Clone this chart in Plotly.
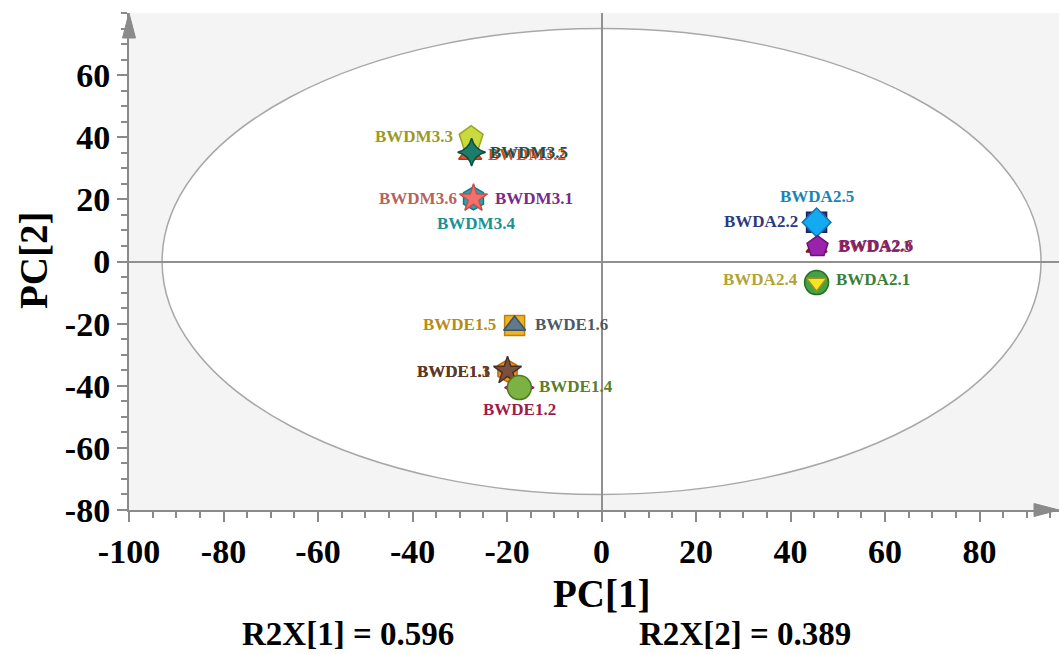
import plotly.graph_objects as go

# PCA score values (PC1, PC2) per sample
samples = ["BWDM3.3", "BWDM3.2", "BWDM3.5", "BWDM3.1", "BWDM3.4", "BWDM3.6",
           "BWDA2.2", "BWDA2.5", "BWDA2.3", "BWDA2.6", "BWDA2.1", "BWDA2.4",
           "BWDE1.5", "BWDE1.6", "BWDE1.1", "BWDE1.3", "BWDE1.2", "BWDE1.4"]
pc1 = [-27.6, -27.8, -27.5, -27.1, -27.1, -27.1,
       45.5, 45.5, 45.5, 45.7, 45.5, 45.5,
       -18.4, -18.4, -19.9, -19.9, -17.4, -17.4]
pc2 = [39.7, 34.5, 35.2, 20.3, 20.3, 20.3,
       12.6, 12.6, 4.5, 4.8, -6.8, -6.8,
       -20.6, -20.6, -35.2, -35.2, -40.6, -40.6]

r2x = [0.596, 0.389]
x_ticks = [-100, -80, -60, -40, -20, 0, 20, 40, 60, 80]
y_ticks = [-80, -60, -40, -20, 0, 20, 40, 60]

# Hotelling T2 ellipse semi-axes
ell_a, ell_b = 93, 75

# marker style: symbol, size, fill, outline
marker_style = {
    "BWDM3.3": ("pentagon", 25, "#c9da3c", "#9aa41e"),
    "BWDM3.2": ("triangle-up", 20, "#e4582a", "#b53a14"),
    "BWDM3.5": ("star-diamond", 20, "#1c7d6b", "#0f4a40"),
    "BWDM3.1": ("diamond", 10, "#8a2c98", "#5d1a68"),
    "BWDM3.4": ("hexagon", 23, "#22a6b8", "#137686"),
    "BWDM3.6": ("star", 21, "#f2706c", "#c2504c"),
    "BWDA2.2": ("square", 20, "#2b3a92", "#1a2262"),
    "BWDA2.5": ("diamond", 22, "#14aaf2", "#0a78b8"),
    "BWDA2.3": ("triangle-up", 18, "#b82424", "#801414"),
    "BWDA2.6": ("pentagon", 22, "#9b22aa", "#6a1274"),
    "BWDA2.1": ("circle", 24, "#44a244", "#226e22"),
    "BWDA2.4": ("triangle-down", 17, "#f4e424", "#a69214"),
    "BWDE1.5": ("square", 20, "#f2b222", "#b88410"),
    "BWDE1.6": ("triangle-up", 19, "#617a8a", "#3f5262"),
    "BWDE1.1": ("hexagon", 22, "#f2921e", "#b86410"),
    "BWDE1.3": ("star", 21, "#7a5040", "#4a3020"),
    "BWDE1.2": ("diamond-wide", 21, "#e04c88", "#a01a4a"),
    "BWDE1.4": ("circle", 24, "#7cb242", "#4c7a22"),
}

# label style: colour, anchor, x shift, y shift (pixels)
label_style = {
    "BWDM3.3": ("#9a9a22", "right", -16, 2),
    "BWDM3.2": ("#d24a1c", "left", 16, 0),
    "BWDM3.5": ("#17544a", "left", 16, 0),
    "BWDM3.1": ("#7a2a8a", "left", 19, 0),
    "BWDM3.4": ("#1a9098", "center", 2, -25),
    "BWDM3.6": ("#b8625a", "right", -15, 0),
    "BWDA2.2": ("#2a3a82", "right", -17, 1),
    "BWDA2.5": ("#1a84b6", "center", 0, 26),
    "BWDA2.3": ("#b22a3a", "left", 19, 1),
    "BWDA2.6": ("#7a2272", "left", 19, 1),
    "BWDA2.1": ("#3a7e3a", "left", 17, 3),
    "BWDA2.4": ("#b4a232", "right", -17, 3),
    "BWDE1.5": ("#b88c12", "right", -17, 1),
    "BWDE1.6": ("#4a5a6a", "left", 18, 1),
    "BWDE1.1": ("#7a4a2a", "right", -16, -1),
    "BWDE1.3": ("#5a3a2a", "right", -16, -1),
    "BWDE1.2": ("#a21a4c", "center", 0, -22),
    "BWDE1.4": ("#5a7e2a", "left", 18, 1),
}

FONT = "Liberation Serif"
AXIS_GREY = "#8a8a8a"

fig = go.Figure()

for name, x, y in zip(samples, pc1, pc2):
    sym, size, fill, edge = marker_style[name]
    fig.add_trace(go.Scatter(
        x=[x], y=[y], mode="markers", name=name, showlegend=False,
        marker=dict(symbol=sym, size=size, color=fill,
                    line=dict(color=edge, width=1.5)),
        hoverinfo="text", text=[name],
    ))

annotations = []
for name, x, y in zip(samples, pc1, pc2):
    color, anchor, dx, dy = label_style[name]
    annotations.append(dict(
        x=x, y=y, xref="x", yref="y", text=f"<b>{name}</b>", showarrow=False,
        xanchor=anchor, yanchor="middle", xshift=dx, yshift=dy,
        font=dict(family=FONT, size=17, color=color),
    ))

# plot area in pixels: x 129..1059, y 13..510
PW, PH = 930, 497

def py(p):
    return (510 - p) / PH

def px(p):
    return (p - 129) / PW

annotations += [
    dict(text="<b>PC[1]</b>", x=px(601), y=py(593), xref="paper", yref="paper",
         showarrow=False, xanchor="center", yanchor="middle",
         font=dict(family=FONT, size=39, color="black")),
    dict(text="<b>PC[2]</b>", x=px(33), y=py(261), xref="paper", yref="paper",
         showarrow=False, xanchor="center", yanchor="middle", textangle=-90,
         font=dict(family=FONT, size=39, color="black")),
    dict(text=f"<b>R2X[1] = {r2x[0]:.3f}</b>", x=px(348), y=py(634),
         xref="paper", yref="paper", showarrow=False, xanchor="center",
         yanchor="middle", font=dict(family=FONT, size=33, color="black")),
    dict(text=f"<b>R2X[2] = {r2x[1]:.3f}</b>", x=px(745), y=py(634),
         xref="paper", yref="paper", showarrow=False, xanchor="center",
         yanchor="middle", font=dict(family=FONT, size=33, color="black")),
]

hw_x = 6.5 / PW
hw_y = 6.5 / PH
shapes = [
    # confidence ellipse
    dict(type="circle", xref="x", yref="y", x0=-ell_a, x1=ell_a, y0=-ell_b, y1=ell_b,
         fillcolor="white", line=dict(color="#a8a8a8", width=1.5), layer="below"),
    # arrow heads on the axes
    dict(type="path", xref="paper", yref="paper",
         path=f"M {-hw_x} {1 - 25 / PH} L 0 1 L {hw_x} {1 - 25 / PH} Z",
         fillcolor=AXIS_GREY, line=dict(color=AXIS_GREY, width=1), layer="above"),
    dict(type="path", xref="paper", yref="paper",
         path=f"M {1 - 25 / PW} {hw_y} L 1 0 L {1 - 25 / PW} {-hw_y} Z",
         fillcolor=AXIS_GREY, line=dict(color=AXIS_GREY, width=1), layer="above"),
]

tick_font = dict(family=FONT, size=34, color="black")

fig.update_layout(
    width=1059, height=654,
    margin=dict(l=129, r=0, t=13, b=144),
    paper_bgcolor="white",
    plot_bgcolor="#f4f4f4",
    showlegend=False,
    shapes=shapes,
    annotations=annotations,
    xaxis=dict(
        range=[-100, 96.8], tickmode="array", tickvals=x_ticks,
        ticktext=[f"<b>{v}</b>" for v in x_ticks], tickfont=tick_font,
        showgrid=False, zeroline=True, zerolinecolor="#909090", zerolinewidth=1.5,
        showline=True, linecolor=AXIS_GREY, linewidth=2,
        ticks="outside", ticklen=10, tickwidth=1.5, tickcolor=AXIS_GREY,
        minor=dict(dtick=5, tick0=0, ticks="outside", ticklen=6, tickwidth=1.5,
                   tickcolor=AXIS_GREY, showgrid=False),
        fixedrange=True,
    ),
    yaxis=dict(
        range=[-80, 80], tickmode="array", tickvals=y_ticks,
        ticktext=[f"<b>{v}</b>" for v in y_ticks], tickfont=tick_font,
        showgrid=False, zeroline=True, zerolinecolor="#909090", zerolinewidth=1.5,
        showline=True, linecolor=AXIS_GREY, linewidth=2,
        ticks="outside", ticklen=10, tickwidth=1.5, tickcolor=AXIS_GREY,
        minor=dict(dtick=5, tick0=0, ticks="outside", ticklen=6, tickwidth=1.5,
                   tickcolor=AXIS_GREY, showgrid=False),
        fixedrange=True,
    ),
)

fig.write_html("out.html")
